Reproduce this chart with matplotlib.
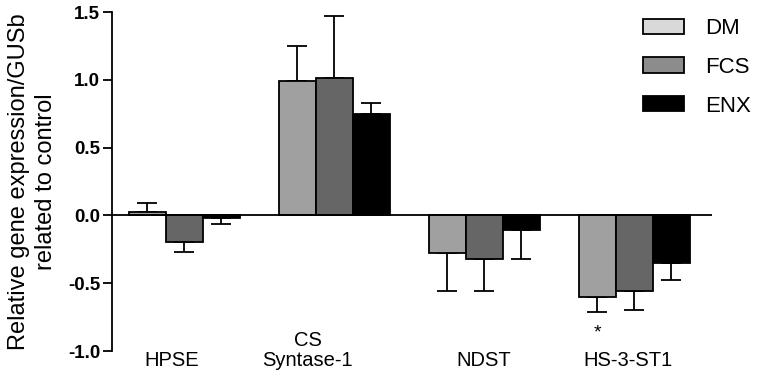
import numpy as np
import matplotlib
matplotlib.use('Agg')
import matplotlib.pyplot as plt
from matplotlib.patches import Patch

plt.rcParams['font.family'] = ['Liberation Sans', 'DejaVu Sans']

# Data
genes = ['HPSE', 'CS\nSyntase-1', 'NDST', 'HS-3-ST1']
groups = ['DM', 'FCS', 'ENX']
means = {
    'DM':  [0.024, 0.99, -0.28, -0.60],
    'FCS': [-0.195, 1.01, -0.32, -0.555],
    'ENX': [-0.02, 0.75, -0.105, -0.35],
}
errs = {
    'DM':  [0.07, 0.26, 0.275, 0.11],
    'FCS': [0.075, 0.46, 0.235, 0.145],
    'ENX': [0.04, 0.08, 0.215, 0.13],
}
signif = [(3, 'DM')]   # (gene index, group) marked with *

bar_colors = {'DM': '#a0a0a0', 'FCS': '#666666', 'ENX': '#000000'}
legend_colors = {'DM': '#d9d9d9', 'FCS': '#8c8c8c', 'ENX': '#000000'}
label_shift = [-0.083, -0.177, -0.007, -0.043]

W, H = 758, 375
fig = plt.figure(figsize=(W/100, H/100), dpi=100)
ax = fig.add_axes([112/W, 1-351/H, 600/W, 339/H])

x = np.arange(len(genes))
w = 0.2467
lw = 1.3
for j, g in enumerate(groups):
    xs = x + (j-1)*w
    m = np.array(means[g])
    e = np.array(errs[g])
    ax.bar(xs, m, w, color=bar_colors[g], edgecolor='black', lw=lw, zorder=2)
    # one-sided error bars, away from zero
    lo = np.where(m < 0, e, 0)
    hi = np.where(m >= 0, e, 0)
    ax.errorbar(xs, m, yerr=[lo, hi], fmt='none', ecolor='black',
                elinewidth=lw, capsize=7.2, capthick=lw, zorder=1)

for gi, g in signif:
    xs = gi + (groups.index(g)-1)*w
    y = means[g][gi] - errs[g][gi] - 0.16
    ax.text(xs, y, '*', ha='center', va='center', fontsize=14)

ax.axhline(0, color='black', lw=lw, zorder=3)

ax.set_xlim(-0.483, 3.517)
ax.set_ylim(-1.0, 1.5)
ax.set_yticks(np.arange(-1.0, 1.51, 0.5))
ax.set_yticklabels(['%.1f' % v for v in np.arange(-1.0, 1.51, 0.5)],
                   fontweight='bold', fontsize=13.5)
ax.tick_params(axis='y', direction='out', length=6.5, width=lw, pad=2)
ax.set_xticks([])
for s in ['top', 'right', 'bottom']:
    ax.spines[s].set_visible(False)
ax.spines['left'].set_linewidth(lw)
ax.spines['left'].set_bounds(-1.0, 1.5)

# category labels under the plot
for i, name in enumerate(genes):
    ax.text(i + label_shift[i], -0.056, name, transform=ax.get_xaxis_transform(),
            ha='center', va='bottom', fontsize=14.5, multialignment='center',
            linespacing=1.05)

ax.set_ylabel('Relative gene expression/GUSb\nrelated to control', fontsize=17,
              labelpad=8, linespacing=1.3)

handles = [Patch(facecolor=legend_colors[g], edgecolor='black', lw=lw) for g in groups]
fig.legend(handles, groups, loc='upper left', bbox_to_anchor=(643/W, 1-18/H),
           frameon=False, fontsize=16, handlelength=1.85, handleheight=0.68,
           handletextpad=0.95, labelspacing=0.8, borderpad=0, borderaxespad=0)

fig.savefig('out.png', dpi=100)
